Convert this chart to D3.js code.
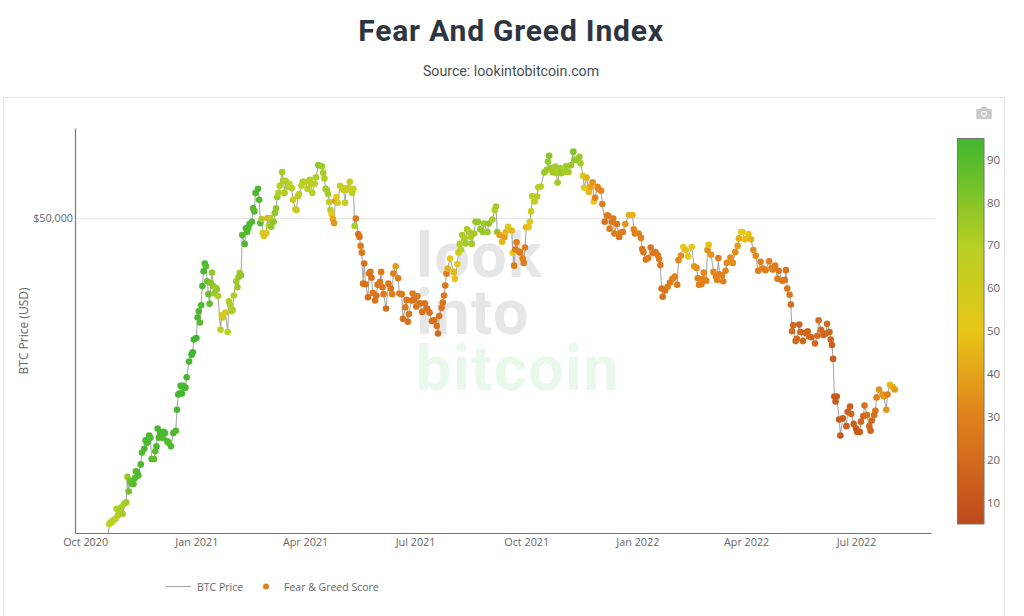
<!DOCTYPE html>
<html>
<head>
<meta charset="utf-8">
<title>Fear And Greed Index</title>
<script src="https://cdn.jsdelivr.net/npm/d3@7"></script>
<style>
  html, body { margin: 0; padding: 0; background: #fff; overflow: hidden; }
  text { font-family: "Open Sans", sans-serif; fill: #666; }
  .title { font-family: Roboto, sans-serif; font-weight: 700; font-size: 30px; letter-spacing: 0.8px; fill: #2d3540; }
  .source { font-family: Roboto, sans-serif; font-size: 14.2px; fill: #495057; }
  .mark { font-family: Roboto, sans-serif; font-weight: 700; font-size: 63px; letter-spacing: 1.5px; }
</style>
</head>
<body>
<svg id="chart" width="1024" height="616"></svg>
<script>
// Days since 1 Oct 2020
var dayOffsets = [
  19,20,21,22,23,25,26,27,28,29,
  30,31,32,34,35,36,37,39,40,41,
  42,43,44,46,47,49,50,51,52,53,
  54,55,57,58,59,60,61,62,64,65,
  66,68,69,71,73,75,76,77,78,79,
  80,81,82,83,84,86,88,89,90,92,
  93,94,95,96,97,98,99,100,101,102,
  103,104,105,106,107,108,109,110,112,113,
  114,116,118,119,120,121,122,123,125,126,
  127,128,129,130,132,133,134,135,136,138,
  139,140,141,143,144,145,146,147,148,150,
  151,152,153,154,156,157,158,159,160,161,
  163,164,165,166,168,169,171,172,174,175,
  176,177,179,180,182,184,186,187,188,190,
  191,193,196,197,198,199,200,201,202,203,
  204,205,206,207,208,209,211,213,214,215,
  216,217,219,221,222,223,224,226,227,228,
  229,230,231,232,234,235,236,237,238,240,
  241,242,244,245,246,247,249,251,253,254,
  255,257,259,260,262,263,265,266,267,268,
  270,271,272,274,275,277,279,281,283,285,
  287,289,291,292,293,295,296,297,298,299,
  300,302,305,306,308,309,310,311,312,314,
  315,316,318,319,320,322,323,325,327,329,
  330,333,334,337,339,340,341,343,345,347,
  348,350,353,354,355,356,357,359,360,362,
  363,364,365,367,368,369,370,372,374,375,
  377,380,382,383,384,385,387,389,390,391,
  393,394,397,398,400,402,404,405,408,409,
  410,412,413,415,417,418,420,421,422,424,
  425,427,428,430,432,433,434,436,437,438,
  440,442,443,445,447,450,453,454,455,458,
  460,461,462,464,466,468,470,472,474,475,
  476,477,478,480,482,484,486,488,490,491,
  493,495,497,499,502,504,506,507,508,510,
  511,512,514,515,516,518,520,522,523,524,
  525,527,528,530,531,534,536,538,540,541,
  543,544,546,549,551,553,555,557,559,561,
  563,566,568,569,571,573,574,577,579,580,
  581,583,584,585,586,588,589,591,592,594,
  596,598,599,601,604,606,607,609,611,613,
  614,616,617,618,619,620,621,622,624,625,
  627,630,631,633,634,636,638,639,641,642,
  644,645,647,649,650,651,653,654,655,657,
  660,661,663,664,666,668,670
];

// BTC price in thousands of USD
var btcPriceK = [
  12.3,12.9,13.0,13.0,13.1,13.2,13.8,13.4,13.5,13.7,
  13.9,13.5,14.1,14.2,15.9,14.9,15.6,15.4,15.4,15.8,
  16.3,16.2,16.0,16.8,17.7,18.0,18.7,18.5,18.6,19.1,
  18.9,17.2,17.2,17.8,18.2,19.7,18.9,19.4,18.9,19.4,
  19.3,18.6,18.5,18.2,19.3,19.5,21.4,22.9,23.0,23.8,
  23.0,23.8,23.6,23.6,24.7,26.5,27.3,27.6,29.2,29.4,
  32.2,33.1,31.5,34.0,37.0,39.5,40.9,40.4,37.8,35.7,
  34.2,37.5,39.3,37.0,35.8,36.7,36.5,35.4,30.5,32.5,
  32.2,32.9,30.2,34.6,34.0,33.1,33.3,35.5,37.8,36.8,
  38.5,39.2,38.8,46.4,44.6,47.8,47.0,47.8,48.7,49.2,
  52.2,51.5,55.9,56.9,54.2,48.9,49.8,46.8,46.2,46.8,
  50.0,48.3,50.0,48.1,49.2,51.1,52.2,54.9,55.9,57.7,
  61.3,59.0,55.9,59.0,57.4,58.2,57.1,54.2,52.0,51.8,
  55.1,55.6,57.7,58.7,58.7,56.9,59.2,58.2,55.9,58.2,
  59.9,63.2,62.9,61.1,59.6,56.9,56.6,55.6,53.7,51.8,
  50.9,49.8,48.9,53.9,54.9,53.5,57.7,57.1,56.6,53.5,
  56.6,57.1,58.7,55.9,56.9,48.3,49.9,46.6,46.0,44.2,
  42.9,37.4,40.9,37.3,35.2,39.1,39.4,38.4,35.9,34.7,
  35.5,37.2,37.7,39.4,36.8,35.7,33.5,37.4,36.6,35.7,
  39.1,40.4,38.3,35.8,35.7,32.0,33.7,34.8,31.6,32.7,
  34.7,35.8,34.8,33.8,35.4,34.3,33.0,34.3,33.5,32.9,
  31.7,31.8,31.0,30.0,32.4,33.6,34.4,35.5,37.1,39.1,
  40.0,41.8,39.4,38.2,40.8,42.9,44.6,43.5,46.4,45.7,
  44.7,47.6,47.0,46.0,44.6,46.7,49.2,49.2,47.6,47.0,
  48.8,47.0,48.8,49.7,51.8,52.6,47.0,46.4,45.0,46.0,
  47.0,48.1,47.3,42.9,40.5,43.5,44.9,43.1,42.9,41.8,
  41.0,43.9,48.0,48.0,49.2,51.5,55.1,53.8,55.0,57.3,
  57.5,61.2,61.9,64.2,65.9,62.4,61.2,62.8,61.0,58.5,
  62.4,61.0,61.3,62.9,61.3,63.2,67.1,64.7,64.5,65.6,
  63.7,60.3,57.2,59.8,56.1,57.4,58.6,53.8,54.7,57.4,
  56.8,56.4,53.2,49.2,50.6,50.5,47.7,49.2,49.9,46.7,
  48.7,46.0,46.9,47.0,48.7,50.7,50.7,47.6,46.7,46.7,
  45.8,43.6,43.0,41.6,41.9,43.9,42.8,43.0,42.4,41.7,
  40.6,36.6,35.3,36.3,36.9,37.6,38.2,38.6,37.2,41.5,
  42.3,44.0,43.4,42.2,44.0,40.4,40.1,38.3,37.2,37.3,
  38.2,39.3,37.9,43.4,44.4,42.5,39.4,38.6,38.0,41.9,
  39.0,38.8,37.8,39.6,41.0,42.0,41.0,43.0,44.2,45.7,
  47.0,47.0,45.5,46.6,45.5,43.4,42.3,39.6,41.2,40.0,
  39.7,41.3,40.1,39.8,40.5,38.2,39.6,37.9,38.0,39.7,
  36.6,35.6,34.1,30.3,31.1,29.0,29.3,31.2,30.2,29.0,
  30.1,30.3,29.6,29.5,28.7,29.7,31.8,30.5,29.8,30.0,
  31.3,30.2,29.2,28.5,26.8,22.7,22.2,22.7,20.5,19.1,
  20.6,19.9,21.2,21.7,21.0,20.1,19.7,19.4,19.4,20.3,
  20.8,21.8,20.9,19.9,19.5,20.4,20.9,21.3,22.6,23.4,
  22.9,22.7,21.4,22.9,23.9,23.7,23.4
];

// Fear & greed score, null where the line has no dot
var fearGreedScore = [
  null,68,68,69,70,70,70,71,70,72,
  73,74,72,74,76,84,86,88,90,90,
  91,91,92,92,92,93,93,93,93,93,
  92,90,89,90,92,93,92,93,92,92,
  93,91,91,91,92,92,93,94,94,95,
  94,94,93,93,93,94,95,95,95,95,
  92,92,90,92,93,93,93,90,85,86,
  88,80,78,78,76,76,76,72,68,58,
  62,56,70,72,72,70,72,72,74,76,
  76,76,78,90,92,92,91,92,92,92,
  90,90,92,93,92,90,72,60,56,58,
  42,66,70,78,80,78,78,76,72,70,
  74,72,72,70,70,70,70,62,62,62,
  68,68,68,70,68,68,70,70,70,70,
  72,78,76,74,72,76,74,74,70,66,
  52,42,36,34,52,58,62,64,64,64,
  62,62,66,66,64,72,28,26,24,28,
  26,25,24,24,22,23,24,24,27,24,
  24,26,27,27,25,28,22,26,26,30,
  30,38,30,30,28,23,27,26,23,25,
  26,28,25,24,28,26,24,24,23,23,
  22,22,24,22,24,25,25,26,26,28,
  44,52,46,48,52,60,70,70,72,72,
  74,74,72,72,74,74,76,78,78,78,
  76,76,78,74,72,74,78,40,46,38,
  46,52,46,52,28,28,30,28,28,30,
  28,28,45,48,56,62,68,70,68,68,
  70,76,76,78,80,76,74,74,72,74,
  74,76,74,76,74,76,82,78,76,76,
  74,58,52,44,46,40,36,50,30,34,
  32,32,28,24,30,28,28,26,28,28,
  26,26,30,28,36,44,44,32,30,30,
  30,26,26,26,28,26,26,26,28,28,
  26,24,24,24,28,28,30,30,28,32,
  34,50,48,52,50,40,34,30,30,30,
  30,32,30,34,48,36,32,30,30,28,
  30,30,30,32,32,34,34,34,38,42,
  50,50,48,50,44,34,32,28,30,30,
  30,30,30,30,28,28,26,26,26,24,
  26,26,22,20,18,20,20,18,20,18,
  18,18,20,18,20,20,22,20,18,18,
  20,18,18,16,14,12,14,12,14,12,
  14,15,16,16,17,15,14,12,14,17,
  18,24,22,20,18,20,22,24,30,36,
  34,38,36,30,46,44,38
];

var xTickDates = ["2020-10-01","2021-01-01","2021-04-01","2021-07-01","2021-10-01","2022-01-01","2022-04-01","2022-07-01"];
var yTickValues = [50000];
var scoreTicks = [10,20,30,40,50,60,70,80,90];
var colorStopScores = [5,30,50,70,95];
var colorStopColors = ["#bd4a1e","#e0801c","#e8c618","#b8cf24","#3fb62f"];
var watermarkLines = ["look","into","bitcoin"];
var watermarkColors = ["#e6e6e6","#e6e6e6","#e8f8ea"];

var parseDay = d3.utcParse("%Y-%m-%d");
var startDay = parseDay("2020-10-01");

var rows = dayOffsets.map((d, i) => ({
  date: d3.utcDay.offset(startDay, d),
  price: btcPriceK[i] * 1000,
  score: fearGreedScore[i]
}));

var svg = d3.select("#chart");

// Page header
svg.append("text").attr("class", "title").attr("x", 511).attr("y", 41)
  .attr("text-anchor", "middle").text("Fear And Greed Index");
svg.append("text").attr("class", "source").attr("x", 511).attr("y", 76)
  .attr("text-anchor", "middle").text("Source: lookintobitcoin.com");

// Card around the plot
svg.append("rect").attr("x", 3.5).attr("y", 97.5).attr("width", 1001).attr("height", 540)
  .attr("fill", "#fff").attr("stroke", "#e4e4e4");

var x = d3.scaleUtc()
  .domain([parseDay("2020-09-23"), parseDay("2022-09-01")])
  .range([75.5, 931]);
var y = d3.scaleLog()
  .domain([12400, 74500])
  .range([533, 128]);
var color = d3.scaleLinear()
  .domain(colorStopScores)
  .range(colorStopColors);

svg.append("clipPath").attr("id", "plotClip").append("rect")
  .attr("x", 75).attr("y", 128).attr("width", 860).attr("height", 405);

// Watermark sits under the data
svg.append("text").attr("class", "mark")
  .selectAll("tspan").data(watermarkLines).enter().append("tspan")
  .attr("x", 416)
  .attr("y", (d, i) => 277 + i * 56.5)
  .style("fill", (d, i) => watermarkColors[i])
  .text(d => d);

// Grid line and axes
svg.selectAll(".grid").data(yTickValues).enter().append("line")
  .attr("class", "grid")
  .attr("x1", 75).attr("x2", 935)
  .attr("y1", d => y(d) + 0.5).attr("y2", d => y(d) + 0.5)
  .attr("stroke", "#e6e6e6");

var xAxis = svg.append("g").attr("transform", "translate(0,533)")
  .call(d3.axisBottom(x)
    .tickValues(xTickDates.map(parseDay))
    .tickFormat(d3.utcFormat("%b %Y"))
    .tickSize(0).tickPadding(5));
xAxis.select(".domain").attr("stroke", "#777").attr("stroke-width", 1.2);
xAxis.selectAll("text").style("font-family", '"Open Sans", sans-serif').style("font-size", "10.8px").style("fill", "#666");

var yAxis = svg.append("g").attr("transform", "translate(75,0)")
  .call(d3.axisLeft(y)
    .tickValues(yTickValues)
    .tickFormat(d3.format("$,"))
    .tickSize(0).tickPadding(2));
yAxis.select(".domain").attr("stroke", "#777").attr("stroke-width", 1.2);
yAxis.selectAll("text").style("font-family", '"Open Sans", sans-serif').style("font-size", "10.8px").style("fill", "#666");

svg.append("text")
  .attr("transform", "translate(28,331) rotate(-90)")
  .attr("text-anchor", "middle")
  .style("font-size", "12px")
  .text("BTC Price (USD)");

// BTC price line
var line = d3.line().x(d => x(d.date)).y(d => y(d.price));
svg.append("path").datum(rows)
  .attr("clip-path", "url(#plotClip)")
  .attr("fill", "none").attr("stroke", "#a9a9a9").attr("stroke-width", 1.1)
  .attr("d", line);

// Score dots
svg.selectAll(".dot").data(rows.filter(d => d.score !== null)).enter().append("circle")
  .attr("class", "dot")
  .attr("cx", d => x(d.date))
  .attr("cy", d => y(d.price))
  .attr("r", 3.3)
  .attr("fill", d => color(d.score));

// Colour bar
var barScale = d3.scaleLinear().domain([5, 95]).range([524, 138]);
var gradient = svg.append("linearGradient").attr("id", "scoreGradient")
  .attr("x1", 0).attr("x2", 0).attr("y1", 1).attr("y2", 0);
gradient.selectAll("stop").data(colorStopScores).enter().append("stop")
  .attr("offset", d => (d - 5) / 90)
  .attr("stop-color", d => color(d));
svg.append("rect").attr("x", 957.5).attr("y", 138.5).attr("width", 26.5).attr("height", 385.5)
  .attr("fill", "url(#scoreGradient)").attr("stroke", "#777");
var barAxis = svg.append("g").attr("transform", "translate(984,0)")
  .call(d3.axisRight(barScale).tickValues(scoreTicks).tickSize(0).tickPadding(3));
barAxis.select(".domain").remove();
barAxis.selectAll("text").style("font-family", '"Open Sans", sans-serif').style("font-size", "11.5px").style("fill", "#666");

// Legend
svg.append("line").attr("x1", 166).attr("x2", 191).attr("y1", 586.5).attr("y2", 586.5)
  .attr("stroke", "#a9a9a9").attr("stroke-width", 1.2);
svg.append("text").attr("x", 197).attr("y", 591).style("font-size", "10.5px").text("BTC Price");
svg.append("circle").attr("cx", 266).attr("cy", 586.5).attr("r", 3).attr("fill", "#e07f1f");
svg.append("text").attr("x", 284).attr("y", 591).style("font-size", "10.5px").text("Fear & Greed Score");

// Camera button
var cam = svg.append("g").attr("transform", "translate(984,113.5)").attr("fill", "#c9c9c9");
cam.append("path").attr("d", "M-7,-4.5h3.5l1.5,-2h4l1.5,2h3.5a0.8,0.8 0 0 1 0.8,0.8v8.4a0.8,0.8 0 0 1 -0.8,0.8h-14a0.8,0.8 0 0 1 -0.8,-0.8v-8.4a0.8,0.8 0 0 1 0.8,-0.8z");
cam.append("circle").attr("r", 3).attr("cy", 0.3).attr("fill", "#fff");
cam.append("circle").attr("r", 1.9).attr("cy", 0.3);
</script>
</body>
</html>
